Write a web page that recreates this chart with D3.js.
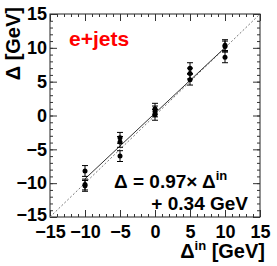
<!DOCTYPE html>
<html>
<head>
<meta charset="utf-8">
<script src="https://cdn.jsdelivr.net/npm/d3@7.9.0/dist/d3.min.js"></script>
<style>
  body { margin: 0; background: #fff; }
  svg { display: block; font-family: "Liberation Sans", Arial, sans-serif; font-weight: bold; }
</style>
</head>
<body>
<svg id="chart" width="277" height="266"></svg>
<script>
// input shift (x) and measured shift (y) per pseudo-experiment group
const inputShift = [-10, -10, -10, -5, -5, -5, 0, 0, 0, 5, 5, 5, 10, 10, 10];
const measured   = [-8.2, -10.2, -10.4, -3.3, -3.9, -6.0, 0.1, 0.6, 1.0, 5.3, 6.2, 7.0, 8.6, 10.2, 10.4];
const errors     = [0.8, 0.8, 0.8, 0.8, 0.8, 0.8, 0.8, 0.8, 0.8, 0.8, 0.8, 0.8, 0.8, 0.8, 0.8];
const majorTicks = [-15, -10, -5, 0, 5, 10, 15];
const fitSlope = 0.97;
const fitOffset = 0.34;
const fitRange = [-10, 10];

const svg = d3.select("#chart");
const mLeft = 50, mRight = 260, mTop = 14, mBottom = 217;

const x = d3.scaleLinear().domain([-15, 15]).range([mLeft, mRight]);
const y = d3.scaleLinear().domain([-15, 15]).range([mBottom, mTop]);
const minorTicks = d3.range(-15, 15.01, 1);

// frame
svg.append("rect")
  .attr("x", mLeft).attr("y", mTop)
  .attr("width", mRight - mLeft).attr("height", mBottom - mTop)
  .attr("fill", "none").attr("stroke", "#222").attr("stroke-width", 1);

function styleAxis(g, showLabels) {
  g.select(".domain").remove();
  g.selectAll(".tick line").attr("stroke", "#333");
  if (!showLabels) g.selectAll(".tick text").remove();
  else g.selectAll(".tick text").attr("font-size", 18).attr("font-weight", "bold").attr("fill", "#000");
}

// bottom
svg.append("g").attr("transform", `translate(0,${mBottom})`)
  .call(d3.axisBottom(x).tickValues(minorTicks).tickSizeInner(-3).tickSizeOuter(0))
  .call(g => styleAxis(g, false));
svg.append("g").attr("transform", `translate(0,${mBottom})`)
  .call(d3.axisBottom(x).tickValues(majorTicks).tickSizeInner(-7).tickSizeOuter(0).tickPadding(8))
  .call(g => styleAxis(g, true));
// top
svg.append("g").attr("transform", `translate(0,${mTop})`)
  .call(d3.axisTop(x).tickValues(minorTicks).tickSizeInner(-3).tickSizeOuter(0))
  .call(g => styleAxis(g, false));
svg.append("g").attr("transform", `translate(0,${mTop})`)
  .call(d3.axisTop(x).tickValues(majorTicks).tickSizeInner(-7).tickSizeOuter(0))
  .call(g => styleAxis(g, false));
// left
svg.append("g").attr("transform", `translate(${mLeft},0)`)
  .call(d3.axisLeft(y).tickValues(minorTicks).tickSizeInner(-3).tickSizeOuter(0))
  .call(g => styleAxis(g, false));
svg.append("g").attr("transform", `translate(${mLeft},0)`)
  .call(d3.axisLeft(y).tickValues(majorTicks).tickSizeInner(-7).tickSizeOuter(0).tickPadding(3))
  .call(g => styleAxis(g, true))
  .call(g => g.selectAll(".tick text").filter(d => d === -15).attr("dy", "0.2em"));
// right
svg.append("g").attr("transform", `translate(${mRight},0)`)
  .call(d3.axisRight(y).tickValues(minorTicks).tickSizeInner(-3).tickSizeOuter(0))
  .call(g => styleAxis(g, false));
svg.append("g").attr("transform", `translate(${mRight},0)`)
  .call(d3.axisRight(y).tickValues(majorTicks).tickSizeInner(-7).tickSizeOuter(0))
  .call(g => styleAxis(g, false));

// diagonal reference (dotted)
svg.append("line")
  .attr("x1", x(-15)).attr("y1", y(-15))
  .attr("x2", x(15)).attr("y2", y(15))
  .attr("stroke", "#777").attr("stroke-width", 1)
  .attr("stroke-dasharray", "2,2");

// fit line
svg.append("line")
  .attr("x1", x(fitRange[0])).attr("y1", y(fitSlope * fitRange[0] + fitOffset))
  .attr("x2", x(fitRange[1])).attr("y2", y(fitSlope * fitRange[1] + fitOffset))
  .attr("stroke", "#333").attr("stroke-width", 1);

// error bars
const pts = inputShift.map((d, i) => ({ x: d, y: measured[i], e: errors[i] }));
const eb = svg.append("g").attr("stroke", "#000").attr("stroke-width", 1);
pts.forEach(p => {
  eb.append("line")
    .attr("x1", x(p.x)).attr("x2", x(p.x))
    .attr("y1", y(p.y - p.e)).attr("y2", y(p.y + p.e));
  [p.y - p.e, p.y + p.e].forEach(v => {
    eb.append("line")
      .attr("x1", x(p.x) - 3).attr("x2", x(p.x) + 3)
      .attr("y1", y(v)).attr("y2", y(v));
  });
});
svg.append("g").selectAll("circle").data(pts).join("circle")
  .attr("cx", d => x(d.x)).attr("cy", d => y(d.y))
  .attr("r", 2.5).attr("fill", "#000");

// labels
svg.append("text")
  .attr("x", 69).attr("y", 46)
  .attr("font-size", 21).attr("fill", "#f00")
  .text("e+jets");

svg.append("text")
  .attr("transform", "translate(20,7) rotate(-90)")
  .attr("text-anchor", "end")
  .attr("font-size", 20)
  .text("Δ [GeV]");

const xt = svg.append("text")
  .attr("x", 265).attr("y", 258)
  .attr("text-anchor", "end")
  .attr("font-size", 20);
xt.append("tspan").text("Δ");
xt.append("tspan").attr("font-size", 13).attr("dy", -8).text("in");
xt.append("tspan").attr("dy", 8).text(" [GeV]");

const ft = svg.append("text")
  .attr("x", 114).attr("y", 188)
  .attr("font-size", 19);
ft.append("tspan").text(`Δ = ${fitSlope}× Δ`);
ft.append("tspan").attr("font-size", 13).attr("dy", -8).text("in");

svg.append("text")
  .attr("x", 248).attr("y", 210)
  .attr("text-anchor", "end")
  .attr("font-size", 19)
  .text(`+ ${fitOffset} GeV`);
</script>
</body>
</html>
